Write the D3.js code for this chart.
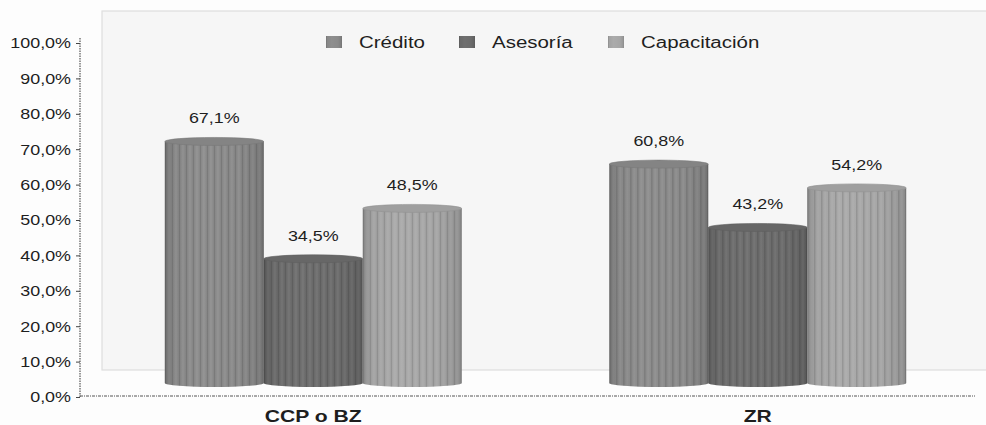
<!DOCTYPE html>
<html>
<head>
<meta charset="utf-8">
<script src="https://cdn.jsdelivr.net/npm/d3@7"></script>
<style>
  html, body { margin: 0; padding: 0; background: #fdfdfd; }
  svg { display: block; }
  text { font-family: "Liberation Sans", Arial, sans-serif; fill: #1e1e1e; }
</style>
</head>
<body>
<svg id="chart" width="986" height="425"></svg>
<script>
// Survey categories and the three services
const groups = ["CCP o BZ", "ZR"];
const series = ["Crédito", "Asesoría", "Capacitación"];

// Share of respondents per service (fractions)
const credito = [0.671, 0.608];
const asesoria = [0.345, 0.432];
const capacitacion = [0.485, 0.542];

// Value labels as printed on the chart
const creditoLabels = ["67,1%", "60,8%"];
const asesoriaLabels = ["34,5%", "43,2%"];
const capacitacionLabels = ["48,5%", "54,2%"];

// Y axis ticks
const tickValues = [0, 0.1, 0.2, 0.3, 0.4, 0.5, 0.6, 0.7, 0.8, 0.9, 1.0];
const tickLabels = ["0,0%", "10,0%", "20,0%", "30,0%", "40,0%", "50,0%", "60,0%", "70,0%", "80,0%", "90,0%", "100,0%"];

const colors = { "Crédito": "#8e8e8e", "Asesoría": "#6f6f6f", "Capacitación": "#ababab" };
const TX = 1.28; // horizontal stretch applied to all text

const svg = d3.select("#chart");
const defs = svg.append("defs");

// Vertical fluting on the cylinders
const pat = defs.append("pattern").attr("id", "flutes")
  .attr("patternUnits", "userSpaceOnUse").attr("width", 7).attr("height", 10);
pat.append("rect").attr("x", 0).attr("width", 1.2).attr("height", 10).attr("fill", "#000").attr("opacity", 0.16);
pat.append("rect").attr("x", 3.5).attr("width", 1).attr("height", 10).attr("fill", "#fff").attr("opacity", 0.1);

// Soft side shading on each cylinder
const shade = defs.append("linearGradient").attr("id", "shade").attr("x1", 0).attr("x2", 1);
[[0, 0.2], [0.08, 0.05], [0.35, 0.0], [0.75, 0.03], [0.95, 0.12], [1, 0.22]].forEach(([o, a]) =>
  shade.append("stop").attr("offset", o).attr("stop-color", "#000").attr("stop-opacity", a));

// Back wall of the 3D plot area
svg.append("rect").attr("x", 102).attr("y", 11).attr("width", 890).attr("height", 359)
  .attr("fill", "#f6f6f6").attr("stroke", "#dedede").attr("stroke-width", 1.2);

// Scales: the axis sits in front, the cylinders stand on the deeper floor
const yAxis = d3.scaleLinear().domain([0, 1]).range([397, 43]);
const yBar = d3.scaleLinear().domain([0, 1]).range([383, 23]);
const x0 = d3.scaleBand().domain(groups).range([91, 980]).paddingInner(0.332).paddingOuter(0.166);
const x1 = d3.scaleBand().domain(series).range([0, x0.bandwidth()]);

// Y axis
const axis = svg.append("g").attr("transform", "translate(80,0)")
  .call(d3.axisLeft(yAxis).tickValues(tickValues).tickSize(4).tickPadding(7)
    .tickFormat((d, i) => tickLabels[i]));
axis.select(".domain").attr("stroke", "#333").attr("stroke-dasharray", "1.5,1").attr("d", "M0,38V397");
axis.selectAll(".tick line").attr("stroke", "#444");
axis.selectAll(".tick text").style("font-size", "14px").attr("fill", "#1e1e1e")
  .attr("x", 0).attr("dy", "0.35em")
  .attr("transform", `translate(-9,0) scale(${TX},1)`);

// Front baseline
svg.append("line").attr("x1", 80).attr("x2", 975).attr("y1", 396).attr("y2", 396)
  .attr("stroke", "#555").attr("stroke-width", 1).attr("stroke-dasharray", "3,1,1,1");

// Cylinders
const rows = [];
groups.forEach((g, gi) => {
  rows.push({ g, s: "Crédito", v: credito[gi], label: creditoLabels[gi] });
  rows.push({ g, s: "Asesoría", v: asesoria[gi], label: asesoriaLabels[gi] });
  rows.push({ g, s: "Capacitación", v: capacitacion[gi], label: capacitacionLabels[gi] });
});

const ry = 4;
const bars = svg.append("g").selectAll("g").data(rows).join("g")
  .attr("transform", d => `translate(${x0(d.g) + x1(d.s)},0)`);

const w = x1.bandwidth();
const body = d => {
  const top = yBar(d.v), bot = yBar(0);
  return `M0,${top} L0,${bot} A${w / 2},${ry} 0 0 0 ${w},${bot} L${w},${top} Z`;
};
bars.append("path").attr("d", body).attr("fill", d => colors[d.s]);
bars.append("path").attr("d", body).attr("fill", "url(#flutes)");
bars.append("path").attr("d", body).attr("fill", "url(#shade)");
bars.append("ellipse").attr("cx", w / 2).attr("cy", d => yBar(d.v)).attr("rx", w / 2).attr("ry", ry)
  .attr("fill", d => d3.color(colors[d.s]).darker(0.2)).attr("stroke", d => d3.color(colors[d.s]).darker(0.45)).attr("stroke-width", 0.6);

// Value labels
bars.append("text").attr("text-anchor", "middle").style("font-size", "14px")
  .attr("transform", d => `translate(${w / 2},${yBar(d.v) - 18}) scale(${TX},1)`)
  .text(d => d.label);

// Category labels
svg.append("g").selectAll("text").data(groups).join("text")
  .attr("text-anchor", "middle").style("font-size", "16.5px").style("font-weight", "bold")
  .attr("transform", d => `translate(${x0(d) + x0.bandwidth() / 2},422) scale(${TX},1)`)
  .text(d => d);

// Legend
const legendX = [326, 459, 608];
const leg = svg.append("g").selectAll("g").data(series).join("g")
  .attr("transform", (d, i) => `translate(${legendX[i]},36)`);
leg.append("rect").attr("width", 16).attr("height", 12).attr("fill", d => colors[d]);
leg.append("rect").attr("width", 16).attr("height", 12).attr("fill", "url(#shade)");
leg.append("text").style("font-size", "16px")
  .attr("transform", `translate(33,12) scale(${TX},1)`)
  .text(d => d);
</script>
</body>
</html>
